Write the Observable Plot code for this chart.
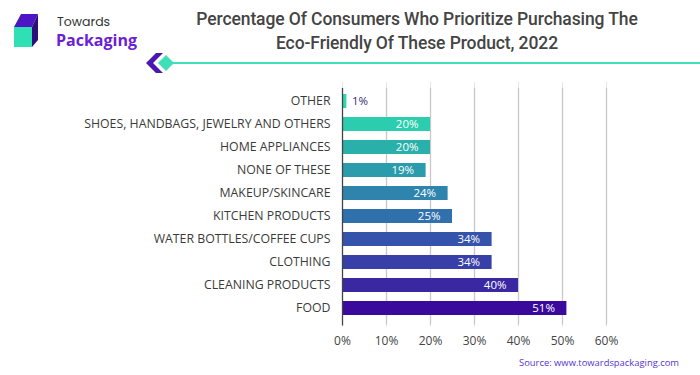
<!DOCTYPE html>
<html><head><meta charset="utf-8">
<script src="https://cdn.jsdelivr.net/npm/d3@7"></script>
<script src="https://cdn.jsdelivr.net/npm/@observablehq/plot@0.6"></script>
<style>
html,body{margin:0;padding:0;background:#fff;}
#wrap{position:relative;width:700px;height:375px;overflow:hidden;font-family:Roboto,sans-serif;}
#wrap svg.plot{position:absolute;left:0;top:0;}
.title{position:absolute;left:147px;width:540px;text-align:center;font-family:Roboto,sans-serif;font-weight:500;font-size:17.5px;color:#444;line-height:24px;top:7px;letter-spacing:-0.1px;}
.src{position:absolute;right:21px;top:356px;font-family:"Open Sans",sans-serif;font-size:9.4px;color:#5a34d2;}
.deco{position:absolute;left:0;top:0;}
</style></head>
<body>
<div id="wrap">
  <svg class="deco" width="700" height="80">
    <polygon points="14,27 21,14 38,14 32,27" fill="#4d16c4"/>
    <polygon points="32,27 38,14 38,40 32,47" fill="#2e0f7a"/>
    <rect x="14" y="27" width="18" height="20" fill="#2ee0b4"/>
    <text x="57" y="26" font-family="Poppins, 'Open Sans', sans-serif" font-size="12.5" fill="#333">Towards</text>
    <text x="56" y="46" font-family="'Open Sans', sans-serif" font-weight="700" font-size="16" fill="#6a1fd6">Packaging</text>
    <line x1="170" y1="63" x2="700" y2="63" stroke="#3fe0b8" stroke-width="2"/>
    <polygon points="146,63 156,53 163,53 153,63 163,73 156,73" fill="#4a18b0"/>
    <polygon points="166,55 174,63 166,71 158,63" fill="#3fe0b8"/>
  </svg>
  <div class="title">Percentage Of Consumers Who Prioritize Purchasing The<br>Eco-Friendly Of These Product, 2022</div>
  <div class="src">Source: www.towardspackaging.com</div>
</div>
<script>
const categories = ["OTHER","SHOES, HANDBAGS, JEWELRY AND OTHERS","HOME APPLIANCES","NONE OF THESE","MAKEUP/SKINCARE","KITCHEN PRODUCTS","WATER BOTTLES/COFFEE CUPS","CLOTHING","CLEANING PRODUCTS","FOOD"];
const values = [1,20,20,19,24,25,34,34,40,51];
const colors = ["#2ed9b2","#2ccdae","#2ab0aa","#2a9cab","#2e84ad","#3070ad","#3553ab","#3840a8","#3a28a3","#3a0a9c"];
const xTicks = [0,10,20,30,40,50,60];

const data = categories.map((c,i)=>({cat:c, v:values[i]}));
const inside = data.filter(d=>d.v>=5);
const outside = data.filter(d=>d.v<5);

const chart = Plot.plot({
  width:700, height:375,
  marginLeft:342, marginRight:94, marginTop:82, marginBottom:48.5,
  style:{fontFamily:"'Open Sans',sans-serif", background:"transparent"},
  x:{domain:[0,60], ticks:xTicks, tickFormat:d=>d+"%", grid:true, label:null},
  y:{domain:categories, padding:0.404, label:null},
  color:{domain:categories, range:colors},
  marks:[
    Plot.gridX(xTicks.slice(1), {stroke:"#c8c8c8", strokeOpacity:1, strokeWidth:1.3, insetTop:6, insetBottom:2}),
    Plot.axisX({ticks:xTicks, tickFormat:d=>d+"%", tickSize:0, tickPadding:9, fontSize:12, color:"#444", label:null}),
    Plot.axisY({tickSize:0, tickPadding:12, fontSize:12.3, color:"#3a3a3a", label:null}),
    Plot.barX(data, {x:"v", y:"cat", fill:"cat"}),
    Plot.ruleX([0], {stroke:"#444", strokeWidth:1.3, insetTop:6, insetBottom:1}),
    Plot.text(inside, {x:"v", y:"cat", text:d=>d.v+"%", textAnchor:"end", dx:-12, fill:"white", fontSize:11.5}),
    Plot.text(outside, {x:"v", y:"cat", text:d=>d.v+"%", textAnchor:"start", dx:5, fill:"#3b2a78", fontSize:11.5})
  ]
});
chart.classList.add("plot");
document.getElementById("wrap").prepend(chart);
</script>
</body></html>
